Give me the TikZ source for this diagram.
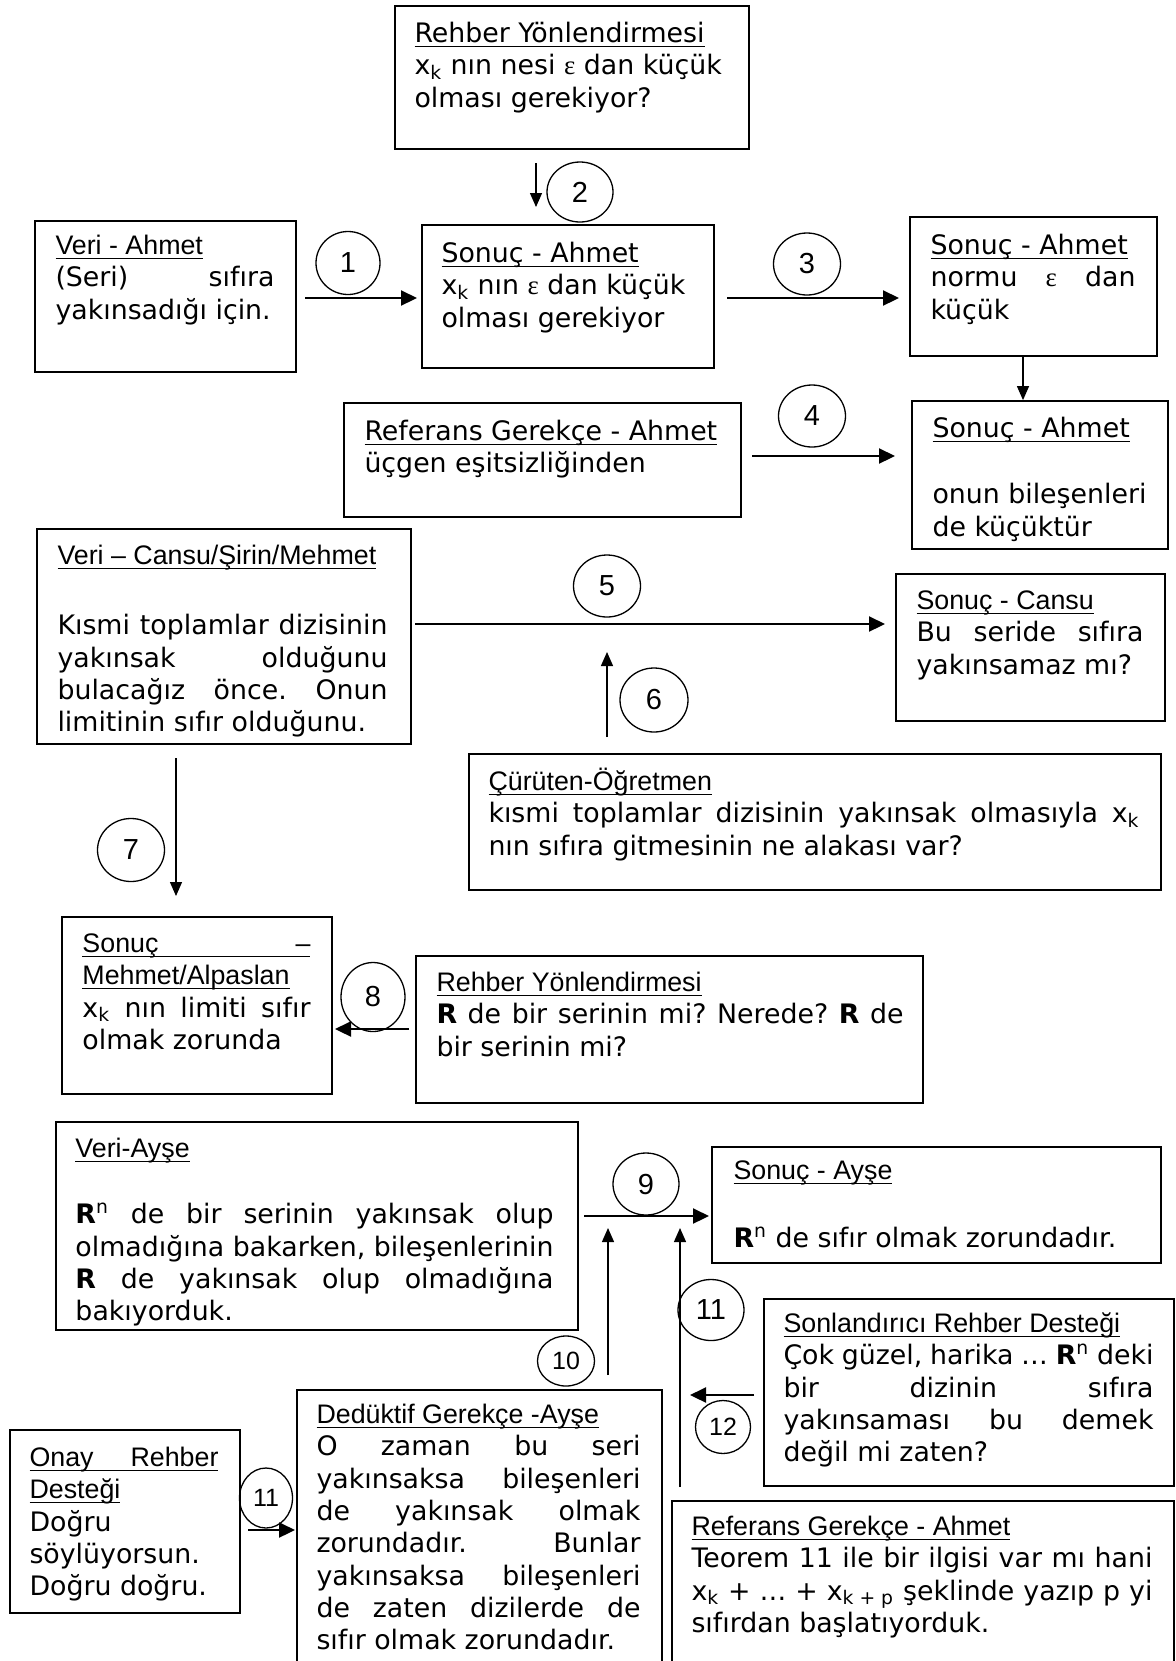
\documentclass[tikz,border=0pt]{standalone}
\usepackage{fontspec}
\setmainfont{DejaVu Sans}
\newfontfamily\arial{Liberation Sans}
\newfontfamily\tms{Liberation Serif}
\usetikzlibrary{arrows.meta,fit,shapes.geometric}
\frenchspacing

\newlength\jw
% justified line of the current box width
\newcommand\jl[1]{\makebox[\jw][s]{#1}}
% underlined heading
\newcommand\hdr[1]{\setbox0\hbox{#1}\rlap{\rule[-2.3pt]{\wd0}{0.8pt}}\box0}
\newcommand\eps{{\tms ε}}
\newcommand\xk{x\textsubscript{k}}
\newcommand\Rn{\textbf{R}\textsuperscript{n}}
% framed box: name, x1, y1, x2, y2, left pad, baseline offset, line width, text
\newcommand\mkbox[9]{%
  \node[frame, fit={(#2,#3) (#4,#5)}] (#1) {};
  \node[txt, jw=#8] (#1t) at ([shift={(#6,#7-26.8)}]#1.north west) {\rule{0pt}{1em}#9};
}

\begin{document}
\begin{tikzpicture}[x=0.5pt,y=-0.5pt,
  font=\fontsize{13.4pt}{16.15pt}\selectfont,
  frame/.style={draw, line width=0.9pt, inner sep=0pt},
  txt/.style={align=left, inner sep=0pt, anchor=north west},
  jw/.code={\global\jw=#1\relax},
  num/.style={ellipse, draw, line width=0.65pt, inner sep=0pt,
    font=\arial\fontsize{14.5pt}{17pt}\selectfont},
  numsm/.style={num, font=\arial\fontsize{12.5pt}{15pt}\selectfont},
  arrT/.style={line width=1.1pt, -{Triangle[length=8pt,width=7.5pt]}},
  arrt/.style={line width=0.65pt, -{Triangle[length=7pt,width=6pt]}}]

\useasboundingbox (0,0) rectangle (1176,1661);
\clip (0,0) rectangle (1176,1661);

% boxes
\mkbox{topR}{395}{6}{749}{149}{20}{37}{157pt}{\hdr{Rehber Yönlendirmesi}\\ \xk{} nın nesi \eps{} dan küçük\\ olması gerekiyor?}
\mkbox{veriA}{35}{221}{296}{372}{21}{34}{109.5pt}{\hdr{\arial Veri - Ahmet}\\ \jl{(Seri) sıfıra}\\ yakınsadığı için.}
\mkbox{sonA}{422}{225}{714}{368}{20}{38}{126pt}{\hdr{Sonuç - Ahmet}\\ \xk{} nın \eps{} dan küçük\\ olması gerekiyor}
\mkbox{sonB}{910}{217}{1157}{356}{21}{38}{102.5pt}{\hdr{Sonuç - Ahmet}\\ \jl{normu \eps{} dan}\\ küçük}
\mkbox{refA}{344}{403}{741}{517}{21}{38}{177pt}{\hdr{Referans Gerekçe - Ahmet}\\ üçgen eşitsizliğinden}
\mkbox{sonC}{912}{401}{1168}{549}{21}{37}{107pt}{\hdr{Sonuç - Ahmet}\\[17pt] \jl{onun bileşenleri}\\ de küçüktür}
\mkbox{veriC}{37}{529}{411}{744}{21}{36}{165pt}{\hdr{\arial Veri – Cansu/Şirin/Mehmet}\\[19pt] \jl{Kısmi toplamlar dizisinin}\\ \jl{yakınsak olduğunu}\\ \jl{bulacağız önce. Onun}\\ limitinin sıfır olduğunu.}
\mkbox{sonCa}{896}{574}{1165}{721}{21}{36}{113.5pt}{\hdr{\arial Sonuç - Cansu}\\ \jl{Bu seride sıfıra}\\ yakınsamaz mı?}
\mkbox{curu}{469}{754}{1161}{890}{20}{37}{325.5pt}{\hdr{\arial Çürüten-Öğretmen}\\ \jl{kısmi toplamlar dizisinin yakınsak olmasıyla \xk}\\ nın sıfıra gitmesinin ne alakası var?}
\mkbox{sonM}{62}{917}{332}{1094}{21}{36}{114pt}{\hdr{\jl{\arial Sonuç –}}\\ \hdr{\arial Mehmet/Alpaslan}\\ \jl{\xk{} nın limiti sıfır}\\ olmak zorunda}
\mkbox{rehB}{416}{956}{923}{1103}{21}{36}{233.5pt}{\hdr{\arial Rehber Yönlendirmesi}\\ \jl{\textbf{R} de bir serinin mi? Nerede? \textbf{R} de}\\ bir serinin mi?}
\mkbox{veriAy}{56}{1122}{578}{1330}{20}{36}{239pt}{\hdr{\arial Veri-Ayşe}\\[17pt] \jl{\Rn{} de bir serinin yakınsak olup}\\ \jl{olmadığına bakarken, bileşenlerinin}\\ \jl{\textbf{R} de yakınsak olup olmadığına}\\ bakıyorduk.}
\mkbox{sonAy}{712}{1147}{1161}{1263}{22}{33}{200pt}{\hdr{\arial Sonuç - Ayşe}\\[18pt] \Rn{} de sıfır olmak zorundadır.}
\mkbox{sonl}{764}{1299}{1174}{1486}{20}{34}{185pt}{\hdr{\arial Sonlandırıcı Rehber Desteği}\\ \jl{Çok güzel, harika … \Rn{} deki}\\ \jl{bir dizinin sıfıra}\\ \jl{yakınsaması bu demek}\\ değil mi zaten?}
\mkbox{dedu}{297}{1390}{662}{1672}{20}{34}{162pt}{\hdr{\arial Dedüktif Gerekçe -Ayşe}\\ \jl{O zaman bu seri}\\ \jl{yakınsaksa bileşenleri}\\ \jl{de yakınsak olmak}\\ \jl{zorundadır. Bunlar}\\ \jl{yakınsaksa bileşenleri}\\ \jl{de zaten dizilerde de}\\ sıfır olmak zorundadır.}
\mkbox{onay}{10}{1430}{240}{1613}{20}{37}{94.5pt}{\hdr{\jl{\arial Onay Rehber}}\\ \hdr{\arial Desteği}\\ Doğru\\ söylüyorsun.\\ Doğru doğru.}
\mkbox{refB}{672}{1501}{1174}{1672}{20}{35}{230.5pt}{\hdr{\arial Referans Gerekçe - Ahmet}\\ \jl{Teorem 11 ile bir ilgisi var mı hani}\\ \jl{\xk{} + … + x\textsubscript{k + p} şeklinde yazıp p yi}\\ sıfırdan başlatıyorduk.}

% numbered step markers
\node[num, minimum width=32pt, minimum height=31.5pt] (c1) at (348,263) {1};
\node[num, minimum width=33pt, minimum height=30pt] (c2) at (580,192) {2};
\node[num, minimum width=33.5pt, minimum height=31pt] (c3) at (807,264) {3};
\node[num, minimum width=33.5pt, minimum height=31pt] (c4) at (812,416) {4};
\node[num, minimum width=33.5pt, minimum height=31pt] (c5) at (607,586) {5};
\node[num, minimum width=34pt, minimum height=32pt] (c6) at (654,700) {6};
\node[num, minimum width=33.5pt, minimum height=31.5pt] (c7) at (131,850) {7};
\node[num, minimum width=32pt, minimum height=34.5pt] (c8) at (373,997) {8};
\node[num, minimum width=33pt, minimum height=31pt] (c9) at (646,1184) {9};
\node[numsm, minimum width=28.5pt, minimum height=25pt] (c10) at (566,1361) {10};
\node[num, minimum width=33pt, minimum height=30.5pt] (c11a) at (711,1310) {11};
\node[numsm, minimum width=27.5pt, minimum height=26.5pt] (c12) at (723,1427) {12};
\node[numsm, minimum width=26.5pt, minimum height=30pt] (c11b) at (266,1498) {11};

% connector end points
\coordinate (a1s) at (305,298);  \coordinate (a1e) at (417,298);
\coordinate (a2s) at (536,163);  \coordinate (a2e) at (536,207);
\coordinate (a3s) at (727,298);  \coordinate (a3e) at (899,298);
\coordinate (adx) at (1023,0);
\coordinate (a4s) at (752,456);  \coordinate (a4e) at (895,456);
\coordinate (a5s) at (415,624);  \coordinate (a5e) at (885,624);
\coordinate (a6s) at (607,737);  \coordinate (a6e) at (607,652);
\coordinate (a7s) at (176,758);  \coordinate (a7e) at (176,896);
\coordinate (a8s) at (409,1029); \coordinate (a8e) at (335,1029);
\coordinate (a9s) at (584,1216); \coordinate (a9e) at (709,1216);
\coordinate (a10s) at (608,1375); \coordinate (a10e) at (608,1228);
\coordinate (a11s) at (680,1487); \coordinate (a11e) at (680,1228);
\coordinate (a12s) at (754,1395); \coordinate (a12e) at (690,1395);
\coordinate (a13s) at (248,1530); \coordinate (a13e) at (295,1530);

% connectors
\draw[arrT] (a1s) -- (a1e);
\draw[arrt] (a2s) -- (a2e);
\draw[arrT] (a3s) -- (a3e);
\draw[arrt] (sonB.south -| adx) -- (sonC.north -| adx);
\draw[arrT] (a4s) -- (a4e);
\draw[arrT] (a5s) -- (a5e);
\draw[arrt] (a6s) -- (a6e);
\draw[arrt] (a7s) -- (a7e);
\draw[arrT] (a8s) -- (a8e);
\draw[arrT] (a9s) -- (a9e);
\draw[arrt] (a10s) -- (a10e);
\draw[arrt] (a11s) -- (a11e);
\draw[arrT] (a12s) -- (a12e);
\draw[arrT] (a13s) -- (a13e);
\end{tikzpicture}
\end{document}
